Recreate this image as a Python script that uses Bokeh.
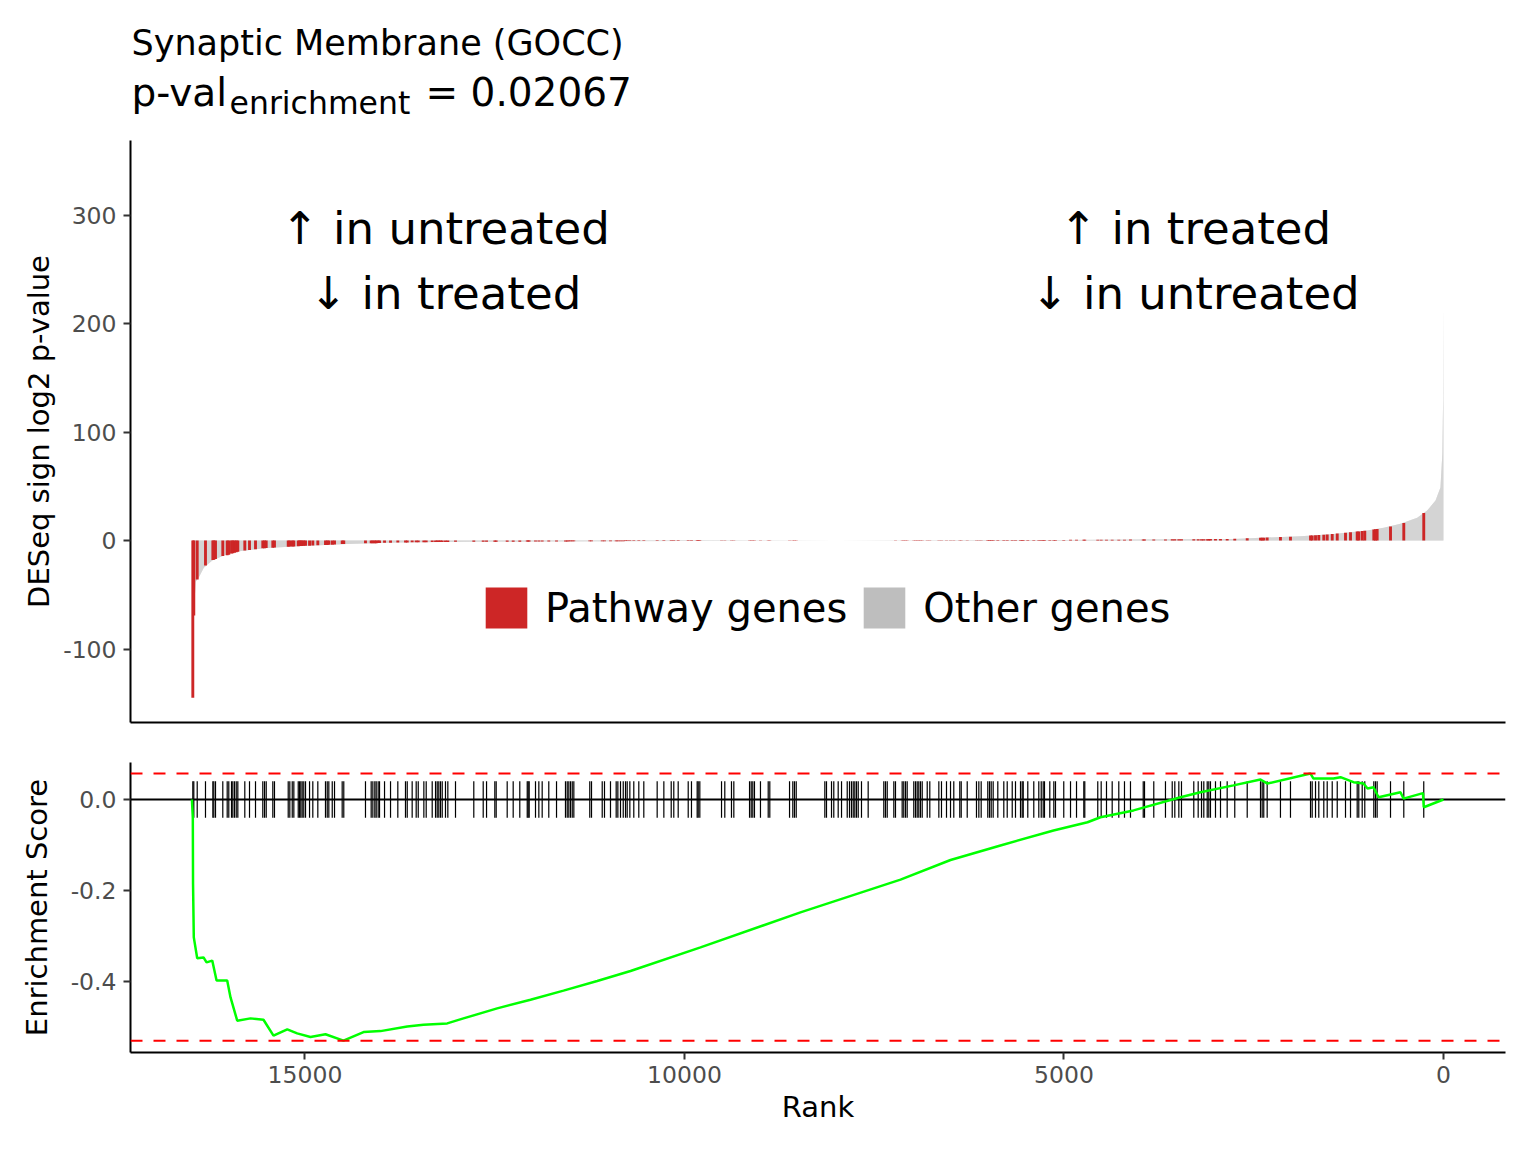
import numpy as np
from bokeh.plotting import figure
from bokeh.layouts import column
from bokeh.models import (Range1d, FixedTicker, Span, Label, Legend, LegendItem,
                          PrintfTickFormatter)
from bokeh.embed import file_html
from bokeh.resources import INLINE

FONT = "DejaVu Sans"

# ---------------- data ----------------
# ranked gene statistic (other genes, drawn as a filled profile)
curve_rank = [16478, 16465, 16440, 16400, 16333, 16222, 16069, 15893, 15543, 15103,
              14444, 13785, 12907, 12029, 11000, 10000, 9000, 8000, 7000, 6000,
              5000, 4000, 3300, 2763, 1884, 1445, 1005, 787, 567, 346,
              215, 105, 40, 15, 5, 1]
curve_value = [-145, -69, -38, -34, -25, -18.4, -13.8, -10.1, -7.1, -5.2,
               -3.1, -1.8, -1.2, -0.9, -0.6, -0.4, -0.2, 0.0, 0.2, 0.4,
               0.6, 0.9, 1.2, 1.5, 4.0, 6.1, 9.2, 11.7, 15.4, 20.9,
               27.6, 36.9, 49, 80, 130, 220]

# pathway genes: rank and DESeq statistic
pathway_rank = [16478, 16465, 16420, 16311, 16214, 16201, 16179, 16083, 16025, 16004, 15968, 15951, 15929, 15906, 15885, 15793, 15731, 15652, 15556, 15533, 15511, 15424, 15402, 15221, 15200, 15168, 15147, 15089, 15072, 15055, 15037, 15016, 14993, 14940, 14897, 14831, 14730, 14707, 14686, 14641, 14611, 14510, 14489, 14203, 14128, 14106, 14080, 14062, 14036, 14018, 13952, 13873, 13777, 13676, 13653, 13588, 13535, 13508, 13434, 13403, 13324,
                13280, 13258, 13237, 13215, 13192, 13149, 13118, 13017, 12776, 12652, 12608, 12499, 12481, 12336, 12257, 12170, 12072, 12059, 12046, 11963, 11919, 11875, 11788, 11686, 11568, 11545, 11524, 11502, 11479, 11458, 11248, 11225, 11084, 11054, 10975, 10900, 10878, 10843, 10807, 10777, 10755, 10720, 10668, 10602, 10536, 10360, 10272, 10175, 10141,
                10083, 9951, 9908, 9833, 9819, 9798, 9512, 9469, 9381, 9350, 9143, 9121, 9100, 9078, 8999, 8897, 8876, 8616, 8573, 8551, 8528, 8151, 8129, 8063, 8033, 7975, 7931, 7856, 7826, 7800, 7777, 7756, 7734, 7711, 7668, 7580, 7374, 7352, 7329, 7242, 7220, 7132, 7111, 7088, 7066, 6979, 6956, 6934, 6913, 6891, 6868,
                6802, 6768, 6649, 6614, 6548, 6495, 6452, 6373, 6354, 6275, 6153, 6122, 6091, 6004, 5981, 5959, 5933, 5872, 5793, 5748, 5682, 5639, 5573, 5551, 5537, 5477, 5398, 5332, 5300, 5274, 5257, 5187, 5134, 5112, 5003, 4914, 4835, 4739, 4726, 4555, 4510, 4440, 4365, 4278, 4203, 4124, 3956, 3939, 3817, 3663,
                3574, 3540, 3487, 3452, 3290, 3232, 3188, 3158, 3113, 3092, 3070, 3004, 2938, 2850, 2750, 2586, 2411, 2389, 2368, 2323, 2148, 2016, 1752, 1730, 1686, 1643, 1577, 1532, 1466, 1400, 1291, 1225, 1137, 1116, 1071, 1037, 918, 896, 874, 698, 523, 260]
pathway_value = [-145, -69, -36, -23, -18, -17.7, -17, -14.2, -13.5, -13.1, -12.0, -11.6, -11.2, -10.8, -10.3, -9.2, -8.7, -8.0, -7.2, -7.0, -6.9, -6.6, -6.5, -5.7, -5.6, -5.5, -5.4, -5.2, -5.1, -5.1, -5.0, -4.9, -4.9, -4.7, -4.6, -4.4, -4.1, -4.0, -3.9, -3.8, -3.7, -3.3, -3.2, -2.6, -2.5, -2.5, -2.4, -2.4, -2.3, -2.3, -2.1, -2.0, -1.8, -1.7, -1.7, -1.6, -1.6, -1.6, -1.5, -1.5, -1.4,
                 -1.4, -1.4, -1.4, -1.3, -1.3, -1.3, -1.3, -1.2, -1.2, -1.1, -1.1, -1.1, -1.1, -1.0, -1.0, -1.0, -0.9, -0.9, -0.9, -0.9, -0.9, -0.8, -0.8, -0.8, -0.8, -0.8, -0.7, -0.7, -0.7, -0.7, -0.7, -0.7, -0.6, -0.6, -0.6, -0.6, -0.6, -0.6, -0.6, -0.5, -0.5, -0.5, -0.5, -0.5, -0.5, -0.5, -0.5, -0.4, -0.4,
                 -0.4, -0.4, -0.4, -0.4, -0.4, -0.4, -0.3, -0.3, -0.3, -0.3, -0.2, -0.2, -0.2, -0.2, -0.2, -0.2, -0.2, -0.1, -0.1, -0.1, -0.1, -0.03, -0.03, -0.01, -0.01, 0.01, 0.01, 0.03, 0.03, 0.04, 0.04, 0.05, 0.05, 0.06, 0.07, 0.08, 0.13, 0.13, 0.13, 0.15, 0.16, 0.17, 0.18, 0.18, 0.19, 0.2, 0.21, 0.21, 0.22, 0.22, 0.23,
                 0.24, 0.25, 0.27, 0.28, 0.29, 0.3, 0.31, 0.33, 0.33, 0.34, 0.37, 0.38, 0.38, 0.4, 0.4, 0.41, 0.41, 0.43, 0.44, 0.45, 0.46, 0.47, 0.49, 0.49, 0.49, 0.5, 0.52, 0.53, 0.54, 0.55, 0.55, 0.56, 0.57, 0.58, 0.6, 0.63, 0.65, 0.68, 0.68, 0.73, 0.75, 0.77, 0.79, 0.82, 0.84, 0.86, 0.92, 0.93, 0.98, 1.05,
                 1.09, 1.1, 1.12, 1.14, 1.2, 1.24, 1.26, 1.28, 1.3, 1.31, 1.32, 1.36, 1.4, 1.45, 1.55, 2.0, 2.5, 2.6, 2.6, 2.8, 3.3, 3.6, 4.6, 4.7, 4.9, 5.1, 5.4, 5.6, 6.0, 6.4, 7.2, 7.7, 8.3, 8.4, 8.7, 9.0, 10.2, 10.4, 10.7, 13.0, 16.2, 25.3]

# running enrichment score
es_rank = [16490, 16478, 16475, 16465, 16420, 16337, 16297, 16222, 16165, 16025,
           15981, 15893, 15718, 15547, 15415, 15234, 15103, 14928, 14730, 14493,
           14229, 14005, 13653, 13439, 13126, 12912, 12468, 12029, 11594, 11150,
           10711, 9789, 8472, 7154, 6495, 5837, 5138, 4690, 4519, 4084,
           3465, 3202, 2767, 2411, 2319, 1752, 1713, 1449, 1357, 1186,
           1054, 1001, 922, 856, 567, 527, 270, 260, 0]
es_score = [0.0, -0.04, -0.185, -0.303, -0.349, -0.347, -0.358, -0.354, -0.398, -0.398,
            -0.435, -0.486, -0.481, -0.484, -0.519, -0.505, -0.514, -0.522, -0.516, -0.530,
            -0.511, -0.509, -0.499, -0.495, -0.492, -0.481, -0.459, -0.440, -0.420, -0.399,
            -0.377, -0.325, -0.248, -0.176, -0.133, -0.101, -0.068, -0.050, -0.039, -0.024,
            0.005, 0.016, 0.031, 0.044, 0.035, 0.057, 0.046, 0.046, 0.049, 0.038,
            0.035, 0.024, 0.027, 0.005, 0.016, 0.002, 0.014, -0.017, 0.0]
es_max = 0.057
es_min = -0.530

top_yticks = [-100, 0, 100, 200, 300]
bot_yticks = [-0.4, -0.2, 0.0]
bot_xticks = [15000, 10000, 5000, 0]

title_text = "Synaptic Membrane (GOCC)"
pval_text = "0.02067"

n = min(len(pathway_rank), len(pathway_value))
pathway_rank = pathway_rank[:n]
pathway_value = pathway_value[:n]

W = 1528
HEAD_H = 124

# ---------------- styling helpers ----------------
def style_axes(p):
    p.grid.visible = False
    p.outline_line_color = None
    p.background_fill_color = "white"
    p.border_fill_color = "white"
    for ax in p.axis:
        ax.axis_line_color = "black"
        ax.axis_line_width = 2
        ax.major_tick_line_color = "#333333"
        ax.major_tick_line_width = 2
        ax.major_tick_out = 7
        ax.major_tick_in = 0
        ax.minor_tick_line_color = None
        ax.major_label_text_font = FONT
        ax.major_label_text_font_size = "23.5px"
        ax.major_label_text_color = "#4D4D4D"
        ax.major_label_standoff = 7
        ax.axis_label_text_font = FONT
        ax.axis_label_text_font_size = "29px"
        ax.axis_label_text_font_style = "normal"
        ax.axis_label_text_color = "black"

X_START, X_END = 17299, -817

# ---------------- header (title block) ----------------
# frame aligns with the panels below, so x is in rank units; y is pixels from top
head = figure(width=W, height=HEAD_H, title=None,
              x_range=Range1d(X_START, X_END), y_range=Range1d(HEAD_H, 0),
              x_axis_type=None, y_axis_type=None,
              output_backend="svg", toolbar_location=None,
              min_border_left=130, min_border_right=23, min_border_top=0, min_border_bottom=0)
head.grid.visible = False
head.outline_line_color = None
head.add_layout(Label(x=17286, y=42, text=title_text, text_font=FONT,
                      text_font_size="35px", text_align="left", text_baseline="alphabetic",
                      text_color="black"))
head.add_layout(Label(x=17286, y=92, text="p-val", text_font=FONT,
                      text_font_size="39px", text_align="left", text_baseline="alphabetic",
                      text_color="black"))
head.add_layout(Label(x=15994, y=102, text="enrichment", text_font=FONT,
                      text_font_size="31.5px", text_align="left", text_baseline="alphabetic",
                      text_color="black"))
head.add_layout(Label(x=13412, y=92, text="= " + pval_text, text_font=FONT,
                      text_font_size="39px", text_align="left", text_baseline="alphabetic",
                      text_color="black"))

# ---------------- top panel ----------------
top = figure(width=W, height=742 - HEAD_H, title=None,
             x_range=Range1d(X_START, X_END), y_range=Range1d(-167.7, 368.7),
             output_backend="svg", toolbar_location=None,
             min_border_left=130, min_border_right=23,
             min_border_top=140 - HEAD_H, min_border_bottom=20)
style_axes(top)
top.xaxis.ticker = FixedTicker(ticks=[])
top.yaxis.ticker = FixedTicker(ticks=top_yticks)
top.yaxis.formatter = PrintfTickFormatter(format="%d")
top.yaxis.axis_label = "DESeq sign log2 p-value"
top.yaxis.axis_label_standoff = 4

gray = top.varea(x=curve_rank, y1=0, y2=curve_value, fill_color="#BEBEBE")
top.varea(x=curve_rank, y1=0, y2=curve_value, fill_color="white", fill_alpha=0.35)
red = top.vbar(x=pathway_rank, top=pathway_value, bottom=0, width=38,
               fill_color="#CD2626", line_color=None)

legend = Legend(items=[LegendItem(label="Pathway genes", renderers=[red]),
                       LegendItem(label="Other genes", renderers=[gray])],
                orientation="horizontal", location=(350, 89),
                glyph_width=52, glyph_height=51, label_height=51,
                label_standoff=13, spacing=11, padding=0, margin=0,
                border_line_color=None, background_fill_alpha=0,
                label_text_font=FONT, label_text_font_size="40px",
                label_text_color="black")
top.add_layout(legend)

for txt, xx, yy in [("\u2191 in untreated", 13150, 287.6), ("\u2193 in treated", 13150, 227.6),
                    ("\u2191 in treated", 3270, 287.6), ("\u2193 in untreated", 3270, 227.6)]:
    top.add_layout(Label(x=xx, y=yy, text=txt, text_font=FONT, text_font_size="45px",
                         text_align="center", text_baseline="middle", text_color="black"))

# ---------------- bottom panel ----------------
bot = figure(width=W, height=402, title=None,
             x_range=Range1d(X_START, X_END), y_range=Range1d(-0.556, 0.0813),
             output_backend="svg", toolbar_location=None,
             min_border_left=130, min_border_right=23,
             min_border_top=20, min_border_bottom=92)
style_axes(bot)
bot.xaxis.ticker = FixedTicker(ticks=bot_xticks)
bot.yaxis.ticker = FixedTicker(ticks=bot_yticks)
bot.yaxis.formatter = PrintfTickFormatter(format="%.1f")
bot.xaxis.axis_label = "Rank"
bot.yaxis.axis_label = "Enrichment Score"
bot.yaxis.axis_label_standoff = 14
bot.xaxis.major_label_standoff = 6
bot.xaxis.axis_label_standoff = 4

bot.add_layout(Span(location=0, dimension="width", line_color="black",
                    line_width=2, level="underlay"))
bot.segment(x0=pathway_rank, y0=-0.04, x1=pathway_rank, y1=0.04,
            line_color="black", line_width=1.2)
for loc in (es_max, es_min):
    bot.add_layout(Span(location=loc, dimension="width", line_color="#FF0000",
                        line_width=2, line_dash="12 11"))
bot.line(x=es_rank, y=es_score, line_color="#00FF00", line_width=2.5)

layout = column(head, top, bot, spacing=0)
open("out.html", "w").write(file_html(layout, INLINE))
